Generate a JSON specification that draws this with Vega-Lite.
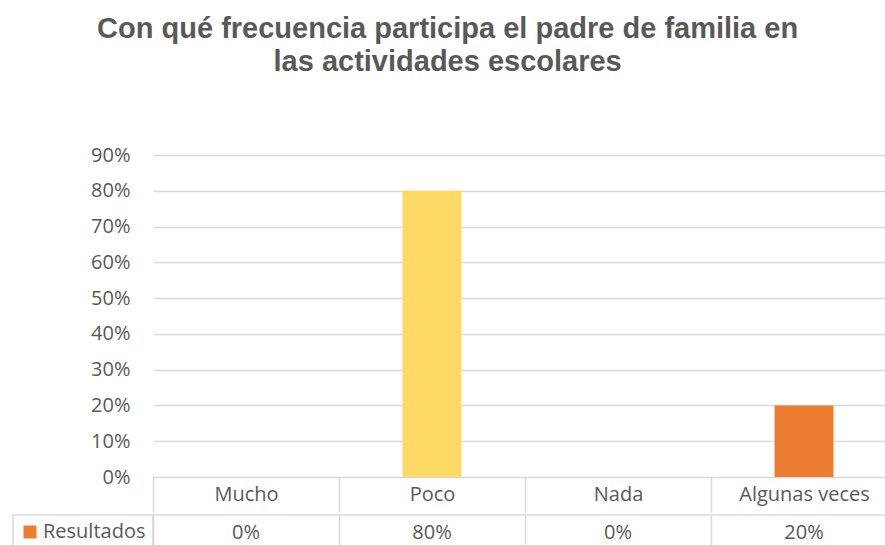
{
  "$schema": "https://vega.github.io/schema/vega-lite/v6.json",
  "autosize": {"type": "pad"},
  "padding": {"left": 11, "top": 15, "right": 0, "bottom": 0},
  "background": "white",
  "config": {
    "view": {"stroke": null},
    "font": "Open Sans",
    "axis": {"labelFont": "Open Sans", "labelColor": "#595959", "labelFontSize": 20},
    "legend": {"strokeColor": "#d9d9d9", "strokeWidth": 1.5}
  },
  "title": {
    "text": ["Con qué frecuencia participa el padre de familia en", "las actividades escolares"],
    "font": "Liberation Sans",
    "fontSize": 29,
    "fontWeight": "bold",
    "color": "#595959",
    "lineHeight": 33,
    "anchor": "middle",
    "dx": -7,
    "offset": 68
  },
  "datasets": {
    "d": [
      {"cat": "Mucho", "val": 0, "serie": "Resultados"},
      {"cat": "Poco", "val": 0.8, "serie": "Resultados"},
      {"cat": "Nada", "val": 0, "serie": "Resultados"},
      {"cat": "Algunas veces", "val": 0.2, "serie": "Resultados"}
    ]
  },
  "spacing": 0,
  "resolve": {"scale": {"color": "independent"}, "legend": {"color": "independent"}},
  "vconcat": [
    {
      "width": 744,
      "height": 322,
      "data": {"name": "d"},
      "mark": {"type": "bar", "width": {"band": 0.317}},
      "encoding": {
        "x": {
          "field": "cat", "type": "nominal", "sort": null,
          "scale": {"paddingInner": 0, "paddingOuter": 0},
          "axis": {
            "title": null, "labelAngle": 0, "domain": false,
            "ticks": true, "tickBand": "extent", "tickSize": 35,
            "tickColor": "#d9d9d9", "tickWidth": 1.5,
            "labelPadding": -18, "labelBaseline": "middle"
          }
        },
        "y": {
          "field": "val", "type": "quantitative",
          "scale": {"domain": [0, 0.9]},
          "axis": {
            "title": null, "format": ".0%",
            "values": [0, 0.1, 0.2, 0.3, 0.4, 0.5, 0.6, 0.7, 0.8, 0.9],
            "domain": false, "ticks": false, "labelPadding": 23,
            "grid": true, "gridColor": "#d9d9d9", "gridWidth": 1.5
          }
        },
        "color": {
          "field": "cat", "type": "nominal", "sort": null,
          "scale": {"domain": ["Mucho", "Poco", "Nada", "Algunas veces"], "range": ["#FFD966", "#FFD966", "#FFD966", "#ED7D31"]},
          "legend": null
        }
      }
    },
    {
      "width": 744,
      "height": 36,
      "data": {"name": "d"},
      "view": {"stroke": "#d9d9d9", "strokeWidth": 1.5},
      "encoding": {
        "x": {
          "field": "cat", "type": "nominal", "sort": null,
          "scale": {"paddingInner": 0, "paddingOuter": 0},
          "axis": {
            "title": null, "labels": false, "ticks": false, "domain": false,
            "grid": true, "tickBand": "extent", "gridColor": "#d9d9d9", "gridWidth": 1.5,
            "orient": "top"
          }
        }
      },
      "layer": [
        {
          "mark": {"type": "text", "fontSize": 20, "font": "Open Sans", "color": "#595959", "baseline": "middle"},
          "encoding": {
            "text": {"field": "val", "type": "quantitative", "format": ".0%"}
          }
        },
        {
          "mark": {"type": "square", "opacity": 0},
          "encoding": {
            "color": {
              "field": "serie", "type": "nominal",
              "scale": {"range": ["#ED7D31"]},
              "legend": {
                "title": null, "orient": "left", "offset": 0,
                "symbolType": "square", "symbolSize": 169, "symbolOpacity": 1,
                "symbolStrokeWidth": 0,
                "labelFont": "Open Sans", "labelFontSize": 20, "labelColor": "#595959",
                "labelOffset": 3, "padding": 7,
                "strokeColor": "#d9d9d9"
              }
            }
          }
        }
      ]
    }
  ]
}
